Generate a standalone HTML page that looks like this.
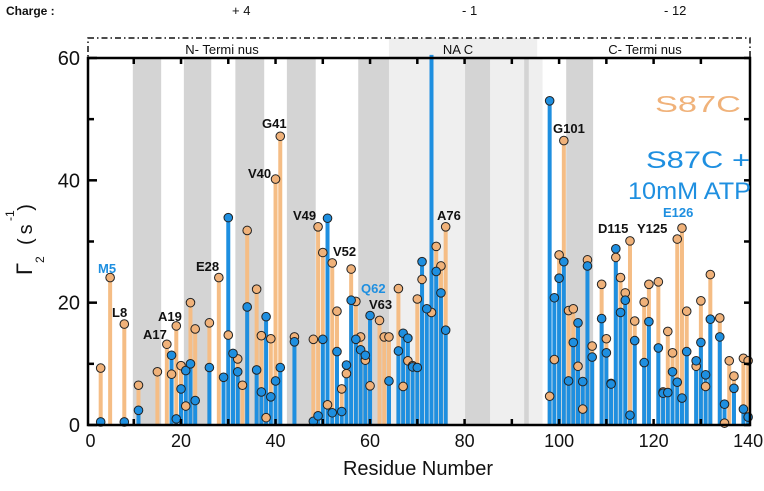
<!DOCTYPE html>
<html><head><meta charset="utf-8"><style>
html,body{margin:0;padding:0;background:#fff;}
svg{display:block;font-family:"Liberation Sans",sans-serif;}
</style></head><body>
<svg id="chart" width="764" height="491" viewBox="0 0 764 491" xmlns="http://www.w3.org/2000/svg">
<g id="bands"></g>
<g id="header">
  <text x="6" y="15" font-size="12" font-weight="bold" fill="#111">Charge :</text>
  <text x="232" y="15" font-size="13" fill="#111">+ 4</text>
  <text x="462" y="15" font-size="13" fill="#111">- 1</text>
  <text x="664" y="15" font-size="13" fill="#111">- 12</text>
  <rect x="88" y="38" width="662" height="20" fill="none" stroke="#111" stroke-width="1.5" stroke-dasharray="6,3,1.5,3"/>
  <text x="222" y="54" font-size="13" text-anchor="middle" fill="#111">N- Termi nus</text>
  <text x="458" y="54" font-size="13" text-anchor="middle" fill="#111">NA C</text>
  <text x="645" y="54" font-size="13" text-anchor="middle" fill="#111">C- Termi nus</text>
</g>
<g id="stems"></g>
<g id="dots"></g>
<g id="axes"></g>
<g id="labels"></g>
<text x="655" y="112" font-size="23" fill="#f0b27a" textLength="86" lengthAdjust="spacingAndGlyphs">S87C</text>
<text x="646" y="168" font-size="24" fill="#1e8fe0" textLength="104" lengthAdjust="spacingAndGlyphs">S87C +</text>
<text x="628" y="199" font-size="24" fill="#1e8fe0" textLength="123" lengthAdjust="spacingAndGlyphs">10mM ATP</text>
<text x="418" y="475" font-size="20" text-anchor="middle" fill="#111">Residue Number</text>
<g transform="translate(32,245) rotate(-90)">
  <text x="-30" y="0" font-size="22" fill="#111">Γ</text>
  <text x="-18" y="12" font-size="12" fill="#111">2</text>
  <text x="0" y="0" font-size="20" fill="#111" letter-spacing="4">(s )</text>
  <text x="24" y="-18" font-size="12" fill="#111">-1</text>
</g>
</svg>
<script>
const residues=[3,5,8,11,15,17,18,19,20,21,22,23,26,28,29,30,31,32,33,34,36,37,38,39,40,41,44,48,49,50,51,52,53,54,55,56,57,58,59,60,62,63,64,66,67,68,69,70,71,72,73,74,75,76,98,99,100,101,102,103,104,105,106,107,109,110,111,112,113,114,115,116,118,119,121,122,123,124,125,126,127,129,130,131,132,134,135,136,137,139,140];
const orangeVals=[9.3,24.1,16.5,6.5,8.7,13.2,8.3,16.2,9.7,3.1,20,15.7,16.7,24.1,null,14.7,null,10.8,6.5,31.8,22.2,14.6,1.2,14.1,40.2,47.2,14.4,14,32.4,28.2,3.3,26.5,18.6,5.9,8.4,25.5,20.2,14.4,10.6,6.4,17.1,14.4,14.4,22.3,6.3,10.5,9.7,20.6,23.8,null,18.4,29.2,26,32.4,4.7,10.7,27.8,46.5,18.7,19,9.6,2.6,27,12.9,23,14.1,6.8,27.4,24.1,21.6,30.1,17,20.1,23,23.4,5.4,15.3,11.8,30.4,32.2,18.6,9.6,20.3,6.3,24.6,17.5,0.3,10.5,8,10.9,10.5];
const blueVals=[0.5,null,0.5,2.4,null,null,11.4,1,5.9,8.9,10,4,9.4,null,7.8,33.9,11.7,8.7,null,19.3,9,5.4,17.7,4.6,7.2,9.4,13.6,0.6,1.5,14,33.8,2,12,2.2,9.8,20.4,14,12.3,11.4,17.9,null,null,7.2,12.1,15,14.2,9.5,9.4,26.7,19,62,25.1,21.6,15.5,53,20.8,24,26.7,7.2,13.5,16.7,7.1,26,11.1,17.4,11.8,6.7,28.8,18.4,20.4,1.6,13.8,10.2,16.9,12.6,5.2,5.3,8.7,7,4.4,12,10.5,13.5,8.2,17.3,14.4,3.4,null,6,2.6,1.3];
const yTicks=[0,20,40,60];
const xTicks=[0,20,40,60,80,100,120,140];
const darkBands=[[9.8,15.8],[20.6,26.4],[31.5,37.6],[42.4,48.5],[57.5,64.0],[80.1,85.4],[92.6,93.6],[101.5,107.2]];
const lightBands=[[64.0,80.1],[85.4,92.6],[93.6,96.5]];
const annLabels=["M5","L8","A17","A19","E28","V40","G41","V49","V52","Q62","V63","A76","G101","D115","Y125","E126"];
const annBlue=[true,false,false,false,false,false,false,false,false,true,false,false,false,false,false,true];
const annX=[98,112,143,158,196,248,262,293,333,361,369,437,553,598,637,663];
const annY=[273,317,339,321,271,178,128,220,256,293,309,220,133,233,233,217];

const NS="http://www.w3.org/2000/svg";
const X0=86.5,XS=4.726,Y0=425,YS=6.117;
const xs=r=>X0+r*XS;
const ys=v=>Y0-Math.min(v,60.5)*YS;
function mk(tag,attrs,parent){const e=document.createElementNS(NS,tag);for(const k in attrs)e.setAttribute(k,attrs[k]);parent.appendChild(e);return e;}
const bands=document.getElementById('bands');
mk('rect',{x:xs(64),y:38,width:xs(101.5)-xs(64)-29,height:20,fill:'#efefef'},bands);
lightBands.forEach(b=>{const e=mk('rect',{x:xs(b[0]),y:58,width:xs(b[1])-xs(b[0]),height:367,fill:'#efefef'},bands);

});
darkBands.forEach(b=>{const e=mk('rect',{x:xs(b[0]),y:58,width:xs(b[1])-xs(b[0]),height:367,fill:'#d4d4d4'},bands);

});
const stems=document.getElementById('stems'),dots=document.getElementById('dots');
residues.forEach((r,i)=>{const o=orangeVals[i];if(o!==null){const e=mk('line',{x1:xs(r),x2:xs(r),y1:Y0,y2:ys(o),stroke:'#f5bd85','stroke-width':4},stems);

}});
residues.forEach((r,i)=>{const b=blueVals[i];if(b!==null){const e=mk('line',{x1:xs(r),x2:xs(r),y1:Y0,y2:ys(b),stroke:'#1e8fe0','stroke-width':4},stems);

}});
residues.forEach((r,i)=>{const o=orangeVals[i];if(o!==null){const e=mk('circle',{cx:xs(r),cy:ys(o),r:4.3,fill:'#f0b27a',stroke:'#222','stroke-width':1},dots);

}});
residues.forEach((r,i)=>{const b=blueVals[i];if(b!==null&&b<=60){const e=mk('circle',{cx:xs(r),cy:ys(b),r:4.3,fill:'#1e8fe0',stroke:'#222','stroke-width':1},dots);

}});
const axes=document.getElementById('axes');
mk('rect',{x:88,y:58,width:662,height:367,fill:'none',stroke:'#000','stroke-width':2.5},axes);
for(let v=0;v<=60;v+=10){const big=v%20===0;
mk('line',{x1:88,x2:88+(big?9:6),y1:ys(v),y2:ys(v),stroke:'#000','stroke-width':2.5},axes);
mk('line',{x1:750,x2:744,y1:ys(v),y2:ys(v),stroke:'#000','stroke-width':2.5},axes);}
for(let r=10;r<140;r+=10){
mk('line',{x1:xs(r),x2:xs(r),y1:425,y2:419,stroke:'#000','stroke-width':2.5},axes);
mk('line',{x1:xs(r),x2:xs(r),y1:58,y2:64,stroke:'#000','stroke-width':2.5},axes);}
yTicks.forEach(v=>{const t=mk('text',{x:80,y:ys(v)+7,'font-size':20,'text-anchor':'end',fill:'#111'},axes);t.textContent=v;

});
xTicks.forEach(v=>{const t=mk('text',{x:xs(v)+(v===0?4:0),y:447,'font-size':18,'text-anchor':'middle',fill:'#111'},axes);t.textContent=v;

});
const labels=document.getElementById('labels');
annLabels.forEach((s,i)=>{
const t=mk('text',{x:annX[i],y:annY[i],'font-size':13,'font-weight':'bold',fill:annBlue[i]?'#1e8fe0':'#111'},labels);
t.textContent=s;

});
</script>
</body></html>
